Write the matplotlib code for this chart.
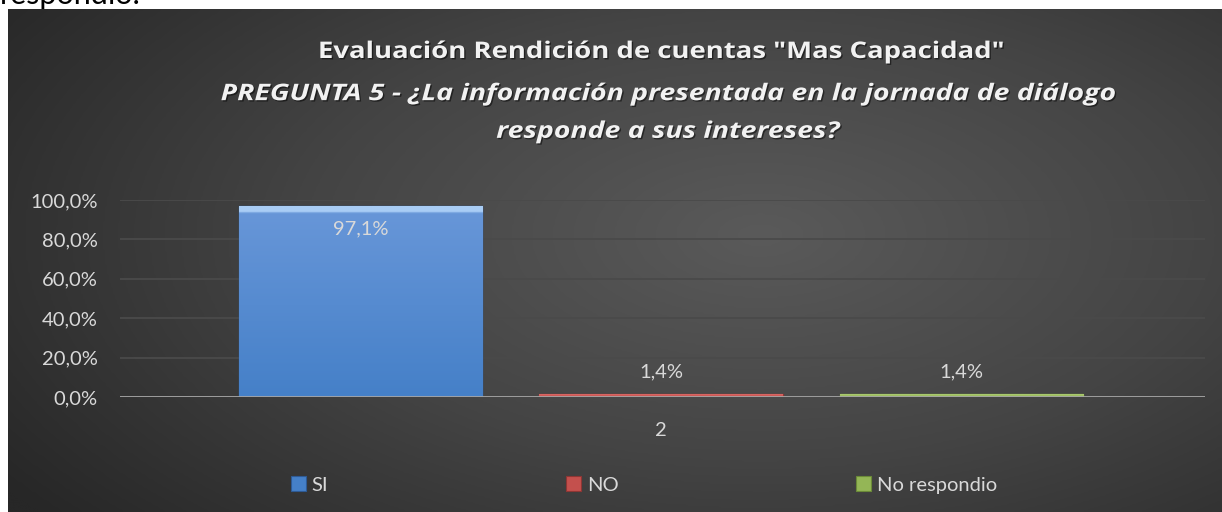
import numpy as np
import matplotlib
matplotlib.use("Agg")
import matplotlib.pyplot as plt
from matplotlib.patches import Rectangle
from matplotlib.colors import LinearSegmentedColormap, to_rgba
from matplotlib.transforms import Affine2D
import matplotlib.patheffects as pe

# data
series = ["SI", "NO", "No respondio"]
values = [0.971, 0.014, 0.014]
category = "2"
yticks = [0.0, 0.2, 0.4, 0.6, 0.8, 1.0]

title = 'Evaluación Rendición de cuentas "Mas Capacidad"'
subtitle = "PREGUNTA 5 - ¿La información presentada en la jornada de diálogo\nresponde a sus intereses?"

# look
bar_cols = [("#a9cdf5", "#6796d8", "#4580c8", "#2e5a94"),
            ("#f0a09e", "#d8625f", "#c4504d", "#8e3634"),
            ("#d2e6a8", "#a8c86c", "#94b656", "#6b8a38")]
txt_col = "#d9d9d9"
W, H = 1222, 512


class HStretch(pe.AbstractPathEffect):
    # widen a text line about its own centre (the excel title has wide tracking)
    def __init__(self, sx, offset=(0, 0), shadow=None, alpha=1.0):
        super().__init__(offset)
        self.sx = sx
        self.shadow = None if shadow is None else to_rgba(shadow)
        self.alpha = alpha

    def draw_path(self, renderer, gc, tpath, affine, rgbFace=None):
        verts = affine.transform(tpath.vertices)
        cx = 0.5 * (verts[:, 0].min() + verts[:, 0].max())
        st = Affine2D().translate(-cx, 0).scale(self.sx, 1).translate(cx, 0)
        gc0 = renderer.new_gc()
        gc0.copy_properties(gc)
        if self.shadow is not None:
            rgbFace = self.shadow
            gc0.set_foreground(self.shadow)
            gc0.set_alpha(self.alpha)
            gc0.set_linewidth(0)
        renderer.draw_path(gc0, tpath, affine + st + self._offset_transform(renderer), rgbFace)
        gc0.restore()


fig = plt.figure(figsize=(W / 100, H / 100), dpi=100, facecolor="white")

# text cut off above the chart (belongs to the page behind it)
fig.text(0.0, 1 - 4 / H, "respondio.", fontsize=22, family="Lato",
         color="black", va="baseline", ha="left")

# dark radial background
bg = fig.add_axes([8 / W, 0, 1 - 8 / W, (H - 9) / H])
bg.set_axis_off()
yy, xx = np.mgrid[0:1:300j, 0:1:600j]
r = np.sqrt(((xx - 0.62) / 0.75) ** 2 + ((yy - 0.55) / 0.9) ** 2)
bgmap = LinearSegmentedColormap.from_list("bg", ["#5a5a5a", "#444444", "#272727"])
bg.imshow(np.clip(r, 0, 1), cmap=bgmap, vmin=0, vmax=1, aspect="auto",
          extent=(0, 1, 0, 1), origin="lower", interpolation="bicubic")
bg.set_xlim(0, 1)
bg.set_ylim(0, 1)

ax = fig.add_axes([120 / W, 115 / H, 1085 / W, 197 / H])
ax.set_facecolor("none")
x = np.arange(len(series))
bars = ax.bar(x, values, width=0.81, color=[c[2] for c in bar_cols],
              edgecolor=[c[3] for c in bar_cols], linewidth=1.0, zorder=3)

# gradient fill with a light bevel on top of each bar
for b, c in zip(bars, bar_cols):
    bx, by = b.get_x(), b.get_y()
    bw, bh = b.get_width(), b.get_height()
    cmap = LinearSegmentedColormap.from_list("bar", [(0, c[2]), (0.96, c[1]), (0.97, c[0]), (1, c[0])])
    grad = np.linspace(0, 1, 200).reshape(-1, 1)
    im = ax.imshow(grad, cmap=cmap, aspect="auto", origin="lower",
                   extent=(bx, bx + bw, by, by + bh), zorder=3.5)
    im.set_clip_path(b)

ax.set_xlim(-0.803, 2.813)
ax.set_ylim(0, 1)
ax.set_yticks(yticks)
ax.set_yticklabels([f"{v * 100:.1f}%".replace(".", ",") for v in yticks])
ax.set_xticks([1])
ax.set_xticklabels([category])
ax.tick_params(axis="y", length=0, pad=16, labelsize=14.5, labelcolor=txt_col)
ax.tick_params(axis="x", length=0, pad=18, labelsize=14.5, labelcolor=txt_col)
for lab in ax.get_xticklabels() + ax.get_yticklabels():
    lab.set_family("Lato")
ax.grid(axis="y", color="#4a4a4a", linewidth=1.3, zorder=0)
ax.set_axisbelow(True)
for s in ax.spines.values():
    s.set_visible(False)
ax.axhline(0, color="#a6a6a6", linewidth=2, zorder=4)

for xi, v in zip(x, values):
    lbl = f"{v * 100:.1f}%".replace(".", ",")
    dy = -17 if v > 0.9 else 16
    ax.annotate(lbl, (xi, v), xytext=(0, dy), textcoords="offset points",
                ha="center", va="center", fontsize=14.5, family="Lato", color=txt_col, zorder=5)

fig.text(661 / W, 1 - 52 / H, title, ha="center", va="center", fontsize=16.5,
         fontweight="bold", family="Open Sans", color="#f2f2f2",
         path_effects=[HStretch(1.2, offset=(1, -1), shadow="black", alpha=0.5), HStretch(1.2)])
fig.text(668 / W, 1 - 113 / H, subtitle, ha="center", va="center", fontsize=16.5,
         fontweight="bold", style="italic", family="Open Sans", color="#f2f2f2",
         linespacing=1.76,
         path_effects=[HStretch(1.24, offset=(1, -1), shadow="black", alpha=0.5), HStretch(1.24)])

handles = [Rectangle((0, 0), 1, 1, facecolor=c[2], edgecolor=c[3], linewidth=0.8) for c in bar_cols]
leg = fig.legend(handles, series, loc="center", bbox_to_anchor=(644 / W, 27 / H), ncol=3,
                 frameon=False, fontsize=14.5, handlelength=0.72, handleheight=0.72,
                 handletextpad=0.3, columnspacing=11.8, borderaxespad=0)
for t in leg.get_texts():
    t.set_color(txt_col)
    t.set_family("Lato")

fig.savefig("out.png", dpi=100, facecolor=fig.get_facecolor())
